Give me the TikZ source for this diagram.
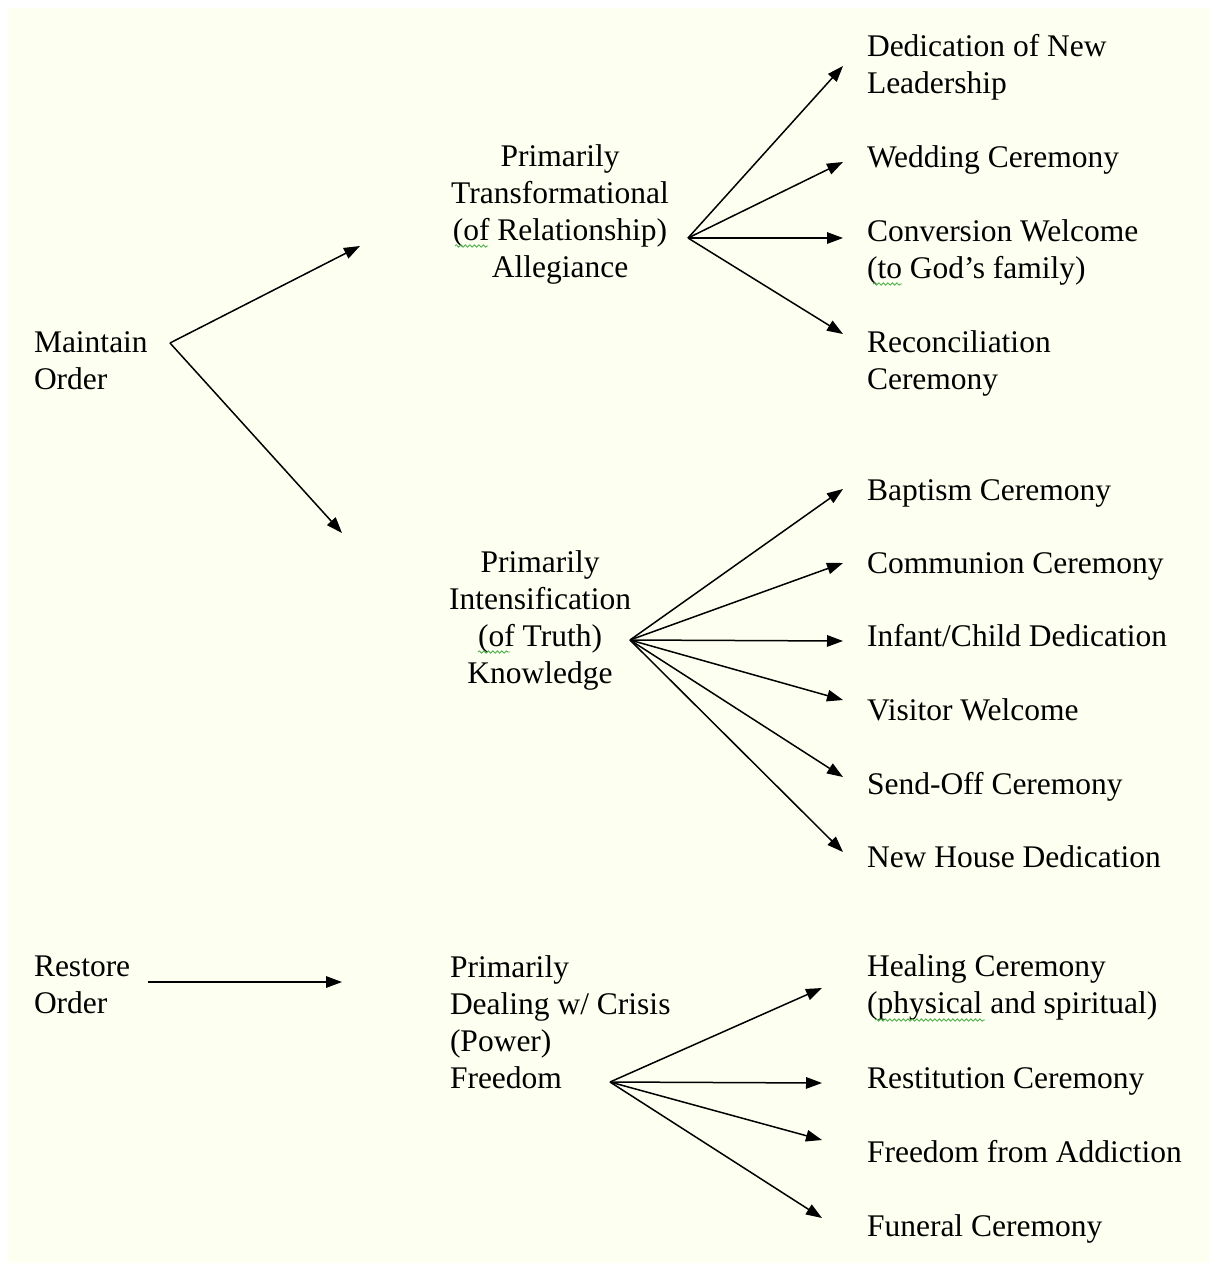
\documentclass[tikz,border=0pt]{standalone}
\usepackage{fontspec}
\setmainfont{Liberation Serif}
\usetikzlibrary{arrows.meta,decorations.pathmorphing}
\definecolor{paper}{RGB}{253,255,240}
\definecolor{spellgreen}{RGB}{70,175,70}
\begin{document}
\begin{tikzpicture}[x=1pt,y=-1pt,
  lbl/.style={inner sep=0pt, outer sep=0pt, font=\fontsize{31.5}{36.7}\selectfont, align=left, anchor=base west},
  ctr/.style={lbl, align=center, anchor=base},
  arr/.style={line width=1.5pt, -{Triangle[length=16pt,width=11.5pt]}},
  wave/.style={spellgreen, line width=0.8pt, decorate, decoration={snake, amplitude=1.2pt, segment length=4.5pt}}]
\useasboundingbox (0,0) rectangle (1209,1263);
\fill[white] (0,0) rectangle (1209,1263);
\fill[paper] (8,8) rectangle (1209,1263);

% left column (y = baseline of the last line)
\node[lbl] (maintain) at (34,389) {Maintain\\Order};
\node[lbl] (restore) at (34,1013) {Restore\\Order};

% middle column
\node[ctr] (trans) at (560,277) {Primarily\\Transformational\\(of Relationship)\\Allegiance};
\node[ctr] (intens) at (540,683) {Primarily\\Intensification\\(of Truth)\\Knowledge};
\node[lbl] (crisis) at (450,1088) {Primarily\\Dealing w/ Crisis\\(Power)\\Freedom};

% right column
\node[lbl] (ded) at (867,93) {Dedication of New\\Leadership};
\node[lbl] (wed) at (867,167) {Wedding Ceremony};
\node[lbl] (conv) at (867,278) {Conversion Welcome\\(to God’s family)};
\node[lbl] (recon) at (867,389) {Reconciliation\\Ceremony};
\node[lbl] (bapt) at (867,500) {Baptism Ceremony};
\node[lbl] (comm) at (867,573) {Communion Ceremony};
\node[lbl] (infant) at (867,646) {Infant/Child Dedication};
\node[lbl] (visit) at (867,720) {Visitor Welcome};
\node[lbl] (send) at (867,794) {Send-Off Ceremony};
\node[lbl] (house) at (867,867) {New House Dedication};
\node[lbl] (heal) at (867,1013) {Healing Ceremony\\(physical and spiritual)};
\node[lbl] (restit) at (867,1088) {Restitution Ceremony};
\node[lbl] (addict) at (867,1162) {Freedom from Addiction};
\node[lbl] (funeral) at (867,1236) {Funeral Ceremony};

% spell-check marks
\draw[wave] (455,246) -- (488,246);
\draw[wave] (873,284) -- (902,284);
\draw[wave] (478,652) -- (510,652);
\draw[wave] (875,1020) -- (985,1020);

% hubs
\coordinate (hubM) at (170,343);
\coordinate (hubR) at (148,982);
\coordinate (hubT) at (688,238);
\coordinate (hubI) at (630,640);
\coordinate (hubD) at (610,1082);

% tips
\coordinate (tT) at (360,246);
\coordinate (tI) at (342,533);
\coordinate (tD) at (342,982);
\coordinate (tded) at (843,66);
\coordinate (twed) at (843,162);
\coordinate (tconv) at (843,238);
\coordinate (trecon) at (843,334);
\coordinate (tbapt) at (843,489);
\coordinate (tcomm) at (843,563);
\coordinate (tinfant) at (843,641);
\coordinate (tvisit) at (843,700);
\coordinate (tsend) at (843,777);
\coordinate (thouse) at (843,852);
\coordinate (theal) at (822,988);
\coordinate (trestit) at (822,1083);
\coordinate (taddict) at (822,1140);
\coordinate (tfuneral) at (822,1218);

\draw[arr] (hubM) -- (tT);
\draw[arr] (hubM) -- (tI);
\draw[arr] (hubR) -- (tD);
\foreach \t in {tded,twed,tconv,trecon} \draw[arr] (hubT) -- (\t);
\foreach \t in {tbapt,tcomm,tinfant,tvisit,tsend,thouse} \draw[arr] (hubI) -- (\t);
\foreach \t in {theal,trestit,taddict,tfuneral} \draw[arr] (hubD) -- (\t);
\end{tikzpicture}
\end{document}
